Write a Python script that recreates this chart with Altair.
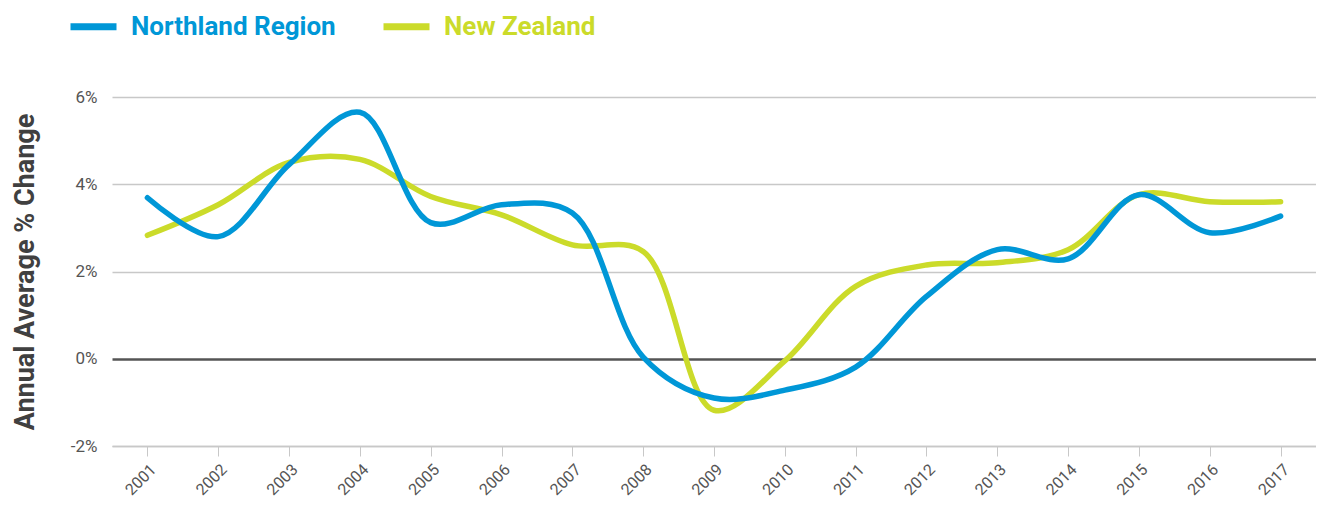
import altair as alt
import pandas as pd

years = list(range(2001, 2018))
northland = [3.69, 2.80, 4.45, 5.65, 3.12, 3.53, 3.34, 0.04, -0.90, -0.72, -0.19, 1.43, 2.50, 2.29, 3.76, 2.89, 3.27]
new_zealand = [2.83, 3.53, 4.50, 4.57, 3.72, 3.30, 2.61, 2.46, -1.18, -0.05, 1.66, 2.15, 2.20, 2.50, 3.76, 3.60, 3.60]
series_names = ["Northland Region", "New Zealand"]
series_colors = ["#0097d7", "#cbdb2a"]
y_ticks = [-2, 0, 2, 4, 6]

rows = []
for y, v in zip(years, new_zealand):
    rows.append({"Year": y, "Value": v, "Series": "New Zealand"})
for y, v in zip(years, northland):
    rows.append({"Year": y, "Value": v, "Series": "Northland Region"})
df = pd.DataFrame(rows)

bold_font = "Roboto, sans-serif"
label_font = "Roboto, sans-serif"

chart = alt.Chart(df).mark_line(
    interpolate="catmull-rom", strokeWidth=5.5, strokeCap="round"
).encode(
    x=alt.X("Year:Q",
            scale=alt.Scale(domain=[2000.5, 2017.5], nice=False, zero=False),
            axis=alt.Axis(values=years, format="d", labelAngle=-45, grid=False,
                          domainColor="#c8c8c8", domainWidth=1.5,
                          tickColor="#c8c8c8", tickSize=10, tickWidth=1,
                          labelFont=label_font, labelFontSize=16, labelColor="#555555",
                          labelPadding=5, title=None)),
    y=alt.Y("Value:Q",
            scale=alt.Scale(domain=[-2, 6], nice=False),
            axis=alt.Axis(values=y_ticks, labelExpr="datum.value + '%'",
                          grid=True,
                          gridColor={"condition": {"test": "datum.value === 0", "value": "#555555"}, "value": "#c8c8c8"},
                          gridWidth={"condition": {"test": "datum.value === 0", "value": 2.5}, "value": 1.5},
                          domain=False, ticks=False,
                          labelFont=label_font, labelFontSize=17, labelColor="#555555",
                          labelPadding=15,
                          title="Annual Average % Change",
                          titleFont=bold_font, titleFontSize=27, titleFontWeight="bold",
                          titleColor="#404040", titlePadding=31)),
    color=alt.Color("Series:N",
                    scale=alt.Scale(domain=series_names, range=series_colors),
                    legend=alt.Legend(
                        orient="none", legendX=-45, legendY=-97,
                        direction="horizontal", title=None,
                        symbolType="stroke", symbolSize=2116, symbolStrokeWidth=7,
                        labelFont=bold_font, labelFontSize=26, labelFontWeight="bold",
                        labelColor=alt.ExprRef("datum.value === 'Northland Region' ? '#0097d7' : '#cbdb2a'"),
                        labelOffset=11, columnPadding=33, padding=0,
                        labelLimit=400,
                    )),
).properties(
    width=1204, height=349,
    autosize=alt.AutoSizeParams(type="none"),
    padding={"left": 104, "top": 89, "right": 0, "bottom": 52},
).configure_view(stroke=None)

chart.save("out.html", embed_options={"renderer": "svg", "actions": False})
